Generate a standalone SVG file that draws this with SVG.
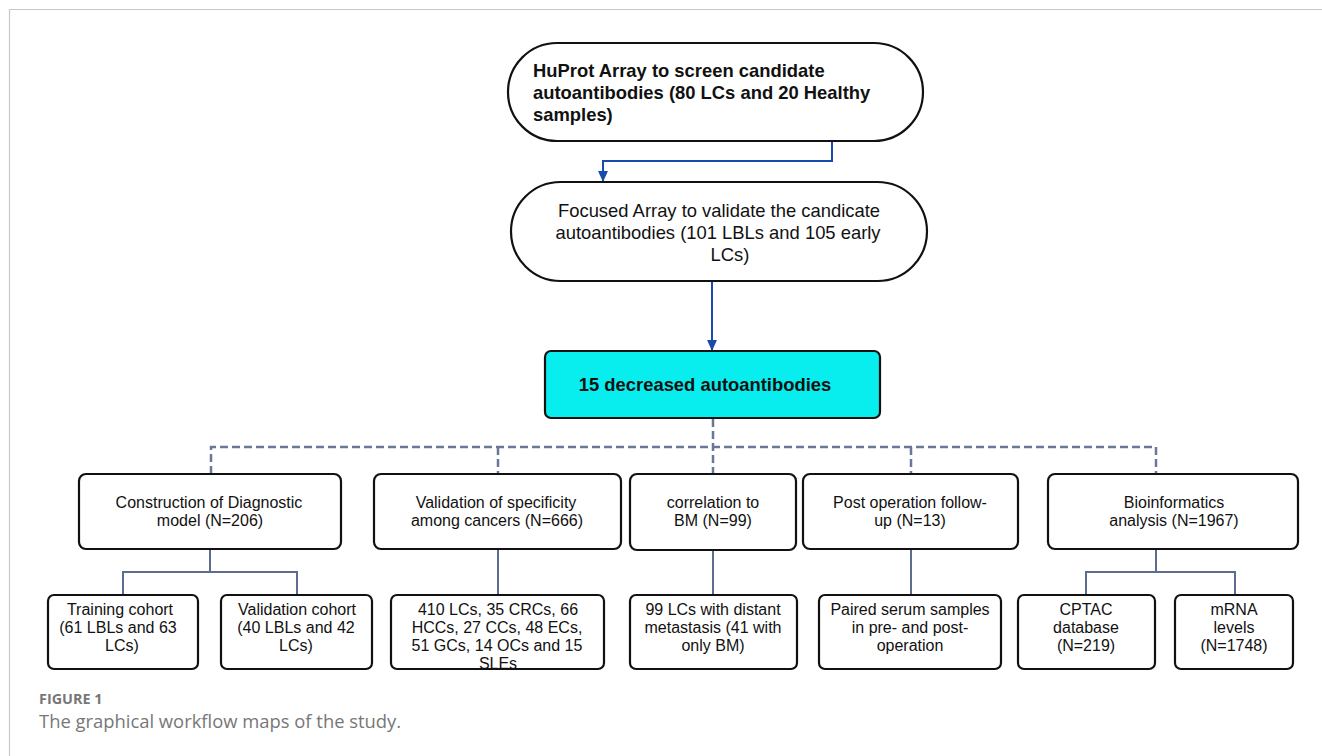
<svg xmlns="http://www.w3.org/2000/svg" width="1322" height="756" viewBox="0 0 1322 756">
<style>
.box{fill:#fff;stroke:#111;stroke-width:2.2}
.cyan{fill:#08eeee;stroke:#111;stroke-width:2.2}
.t{font-family:"Liberation Sans",Arial,sans-serif;font-size:16px;fill:#111;text-anchor:middle}
.tb{font-family:"Liberation Sans",Arial,sans-serif;font-size:18.4px;font-weight:bold;fill:#111}
.tr{font-family:"Liberation Sans",Arial,sans-serif;font-size:18.4px;fill:#111;text-anchor:middle}
.dash{fill:none;stroke:#6a7898;stroke-width:2.5;stroke-dasharray:8 4}
.sol{fill:none;stroke:#5e6d8f;stroke-width:2}
.arr{fill:none;stroke:#1a4bab;stroke-width:2}
.cap{font-family:"Open Sans",sans-serif;fill:#777}
</style>
<defs>
<marker id="ah" viewBox="0 0 10 10" refX="9" refY="5" markerUnits="userSpaceOnUse" markerWidth="11" markerHeight="11" orient="auto">
<path d="M0,0.5 L10,5 L0,9.5 z" fill="#1a4bab"/>
</marker>
<clipPath id="clipb"><rect x="391" y="595" width="213" height="73"/></clipPath>
</defs>
<rect width="1322" height="756" fill="#fff"/>
<path d="M9.5,756 V9.5 H1322" fill="none" stroke="#c8c8c8" stroke-width="1.2"/>

<g id="connectors">
<path class="arr" d="M832,141 V161 H603 V181" marker-end="url(#ah)"/>
<path class="arr" d="M712,281 V350" marker-end="url(#ah)"/>
<path class="dash" d="M713,419 V474"/>
<path class="dash" d="M211,474 V447 H1156 V474"/>
<path class="dash" d="M498,447 V474"/>
<path class="dash" d="M911,447 V474"/>
<path class="sol" d="M210,549 V572 M123,595 V572 H297 V595"/>
<path class="sol" d="M498,549 V595"/>
<path class="sol" d="M713,550 V595"/>
<path class="sol" d="M911,549 V595"/>
<path class="sol" d="M1156,549 V572 M1086,595 V572 H1235 V595"/>
</g>

<g id="n_huprot">
<rect class="box" x="508" y="43" width="415" height="98" rx="49"/>
<text class="tb" x="533" y="77">HuProt Array to screen candidate</text>
<text class="tb" x="533" y="99">autoantibodies (80 LCs and 20 Healthy</text>
<text class="tb" x="533" y="121">samples)</text>
</g>

<g id="n_focused">
<rect class="box" x="511" y="182" width="416" height="99" rx="49.5"/>
<text class="tr" x="719" y="217">Focused Array to validate the candicate</text>
<text class="tr" x="718" y="239">autoantibodies (101 LBLs and 105 early</text>
<text class="tr" x="730" y="261">LCs)</text>
</g>

<g id="n_15">
<rect class="cyan" x="545" y="351" width="335" height="67" rx="6"/>
<text class="tb" x="705" y="391" text-anchor="middle">15 decreased autoantibodies</text>
</g>

<g id="n_construction">
<rect class="box" x="79" y="474" width="262" height="75" rx="7"/>
<text class="t" x="209" y="508">Construction of Diagnostic</text>
<text class="t" x="210" y="526">model (N=206)</text>
</g>
<g id="n_specificity">
<rect class="box" x="374" y="474" width="247" height="75" rx="7"/>
<text class="t" x="496" y="508">Validation of specificity</text>
<text class="t" x="497" y="526">among cancers (N=666)</text>
</g>
<g id="n_bm">
<rect class="box" x="630" y="474" width="166" height="76" rx="7"/>
<text class="t" x="713" y="508">correlation to</text>
<text class="t" x="713" y="526">BM (N=99)</text>
</g>
<g id="n_postop">
<rect class="box" x="803" y="474" width="215" height="75" rx="7"/>
<text class="t" x="910" y="508">Post operation follow-</text>
<text class="t" x="910" y="526">up (N=13)</text>
</g>
<g id="n_bioinf">
<rect class="box" x="1048" y="474" width="250" height="75" rx="7"/>
<text class="t" x="1174" y="508">Bioinformatics</text>
<text class="t" x="1174" y="526">analysis (N=1967)</text>
</g>

<g id="n_training">
<rect class="box" x="48" y="595" width="150" height="74" rx="6"/>
<text class="t" x="120" y="615">Training cohort</text>
<text class="t" x="118" y="633">(61 LBLs and 63</text>
<text class="t" x="122" y="651">LCs)</text>
</g>
<g id="n_validation">
<rect class="box" x="221" y="595" width="151" height="74" rx="6"/>
<text class="t" x="297" y="615">Validation cohort</text>
<text class="t" x="296" y="633">(40 LBLs and 42</text>
<text class="t" x="296" y="651">LCs)</text>
</g>
<g id="n_cancers">
<rect class="box" x="391" y="595" width="213" height="74" rx="6"/>
<g clip-path="url(#clipb)">
<text class="t" x="498" y="615">410 LCs, 35 CRCs, 66</text>
<text class="t" x="497" y="633">HCCs, 27 CCs, 48 ECs,</text>
<text class="t" x="497" y="651">51 GCs, 14 OCs and 15</text>
<text class="t" x="498" y="669">SLEs</text>
</g>
</g>
<g id="n_distant">
<rect class="box" x="630" y="595" width="167" height="74" rx="6"/>
<text class="t" x="713" y="615">99 LCs with distant</text>
<text class="t" x="713" y="633">metastasis (41 with</text>
<text class="t" x="713" y="651">only BM)</text>
</g>
<g id="n_paired">
<rect class="box" x="819" y="595" width="182" height="74" rx="6"/>
<text class="t" x="910" y="615">Paired serum samples</text>
<text class="t" x="910" y="633">in pre- and post-</text>
<text class="t" x="910" y="651">operation</text>
</g>
<g id="n_cptac">
<rect class="box" x="1018" y="595" width="137" height="74" rx="6"/>
<text class="t" x="1086" y="615">CPTAC</text>
<text class="t" x="1086" y="633">database</text>
<text class="t" x="1086" y="651">(N=219)</text>
</g>
<g id="n_mrna">
<rect class="box" x="1175" y="595" width="118" height="74" rx="6"/>
<text class="t" x="1234" y="615">mRNA</text>
<text class="t" x="1234" y="633">levels</text>
<text class="t" x="1234" y="651">(N=1748)</text>
</g>

<text class="cap" x="39" y="704" font-size="14.4" font-weight="bold">FIGURE 1</text>
<text class="cap" x="39" y="728" font-size="18.4" fill="#6a6a6a">The graphical workflow maps of the study.</text>
</svg>
